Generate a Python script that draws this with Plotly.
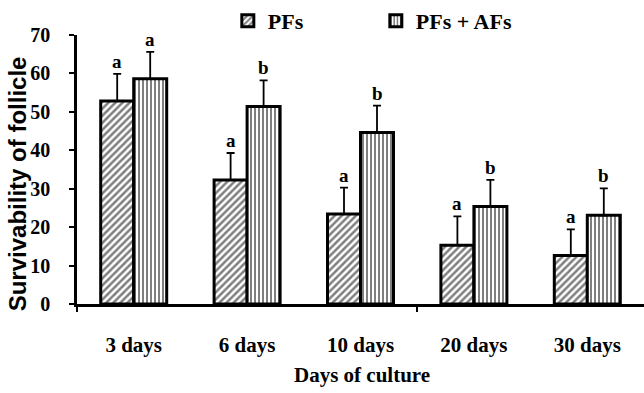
import plotly.graph_objects as go

categories = ["3 days", "6 days", "10 days", "20 days", "30 days"]
pfs = [52.8, 32.3, 23.4, 15.3, 12.6]
pfs_err = [7.1, 7.0, 6.9, 7.5, 6.8]
pfs_afs = [58.6, 51.4, 44.6, 25.4, 23.1]
pfs_afs_err = [7.0, 6.8, 7.0, 6.9, 7.0]
pfs_letters = ["a", "a", "a", "a", "a"]
pfs_afs_letters = ["a", "b", "b", "b", "b"]
y_ticks = [0, 10, 20, 30, 40, 50, 60, 70]

xpos = list(range(len(categories)))
serif = "Liberation Serif"

fig = go.Figure()
fig.add_trace(go.Bar(
    name="PFs", x=xpos, y=pfs,
    marker=dict(color="white", line=dict(color="black", width=3),
                pattern=dict(shape="/", fgcolor="black", bgcolor="white", size=5, solidity=0.5)),
    error_y=dict(type="data", symmetric=False, array=pfs_err, arrayminus=[0]*5,
                 color="black", thickness=1.8, width=4),
))
fig.add_trace(go.Bar(
    name="PFs + AFs", x=xpos, y=pfs_afs,
    marker=dict(color="white", line=dict(color="black", width=3),
                pattern=dict(shape="|", fgcolor="black", bgcolor="white", size=4, solidity=0.5)),
    error_y=dict(type="data", symmetric=False, array=pfs_afs_err, arrayminus=[0]*5,
                 color="black", thickness=1.8, width=4),
))

bargap = 0.418
half = (1 - bargap) / 4
annotations = []
for i in xpos:
    annotations.append(dict(x=i - half, y=pfs[i] + pfs_err[i], text=pfs_letters[i],
                            showarrow=False, yanchor="bottom", yshift=0,
                            font=dict(family=serif, size=19, color="black", weight="bold")))
    annotations.append(dict(x=i + half, y=pfs_afs[i] + pfs_afs_err[i], text=pfs_afs_letters[i],
                            showarrow=False, yanchor="bottom", yshift=0,
                            font=dict(family=serif, size=19, color="black", weight="bold")))

annotations.append(dict(xref="paper", yref="paper", x=-0.1058, y=0.445,
                        text="Survivability of follicle", textangle=-90, showarrow=False,
                        xanchor="center", yanchor="middle",
                        font=dict(family="Liberation Sans", size=24, color="black", weight="bold")))
annotations.append(dict(xref="paper", yref="paper", x=0.503, y=-0.265,
                        text="Days of culture", showarrow=False,
                        xanchor="center", yanchor="middle",
                        font=dict(family=serif, size=21, color="black", weight="bold")))

fig.update_layout(
    width=644, height=393,
    margin=dict(l=77, r=0, t=35, b=88.5),
    paper_bgcolor="white", plot_bgcolor="white",
    barmode="group", bargap=bargap, bargroupgap=0,
    showlegend=True,
    legend=dict(orientation="h", x=0.266, y=1.052, xanchor="left", yanchor="middle",
                entrywidth=103, entrywidthmode="pixels", itemwidth=30,
                font=dict(family=serif, size=22, color="black", weight="bold"),
                bgcolor="rgba(0,0,0,0)"),
    annotations=annotations,
)
fig.update_xaxes(
    range=[-0.5, 4.5], tickmode="array", tickvals=xpos, ticktext=categories,
    ticks="", showline=True, linecolor="black", linewidth=2.5, showgrid=False, zeroline=False,
    tickfont=dict(family=serif, size=21, color="black", weight="bold"),
    ticklabelstandoff=20,
    minor=dict(tickmode="array", tickvals=[-0.5, 2.5], ticks="outside", ticklen=5,
               tickwidth=2, tickcolor="black", showgrid=False),
)
fig.update_yaxes(
    range=[0, 70], tickmode="array", tickvals=y_ticks,
    ticks="outside", ticklen=5, tickwidth=2, tickcolor="black",
    showline=True, linecolor="black", linewidth=2.5, showgrid=False, zeroline=False,
    tickfont=dict(family=serif, size=20, color="black", weight="bold"),
    ticklabelstandoff=15,
)

fig.write_html("out.html")
